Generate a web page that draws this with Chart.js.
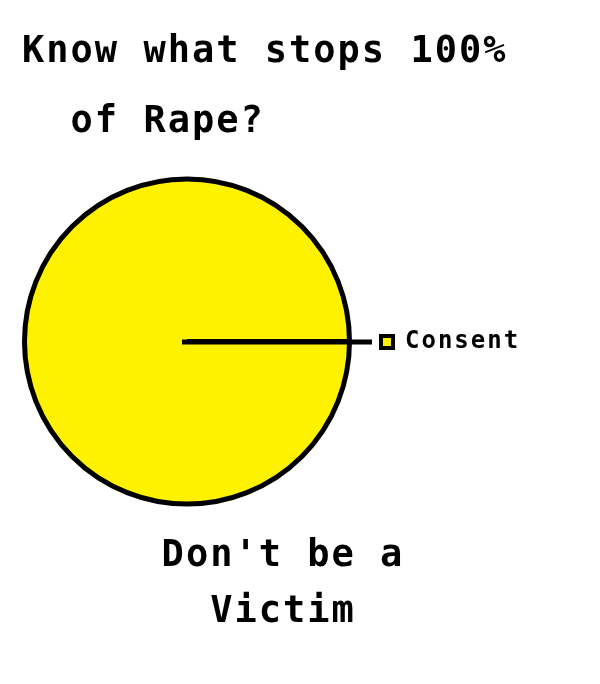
<!DOCTYPE html>
<html>
<head>
<meta charset="utf-8">
<script src="https://cdn.jsdelivr.net/npm/chart.js@4/dist/chart.umd.min.js"></script>
<style>
  html, body { margin: 0; padding: 0; background: #ffffff; }
  #wrap { width: 600px; height: 684px; position: relative; }
</style>
</head>
<body>
<div id="wrap"><canvas id="c"></canvas></div>
<script>
// ---- data ----
const categories = ['Consent'];
const seriesValues = [100];
const titleLines = ['Know what stops 100%', '  of Rape?'];
const footerLines = ["Don't be a", 'Victim'];

const YELLOW = '#FFF200';
const FONT = "'DejaVu Sans Mono', 'Liberation Mono', monospace";
const LEGEND_WIDTH = 192;

const spacingPlugin = {
  id: 'letterSpacing',
  afterInit(chart) {
    const lg = chart.legend;
    if (lg && !lg._wrapped) {
      const orig = lg.fit;
      lg.fit = function () {
        orig.apply(this, arguments);
        this.width = Math.max(this.width, LEGEND_WIDTH);
      };
      lg._wrapped = true;
    }
  },
  beforeUpdate(chart) { chart.ctx.letterSpacing = '2px'; },
  beforeLayout(chart) { chart.ctx.letterSpacing = '2px'; },
  beforeDraw(chart) { chart.ctx.letterSpacing = '2px'; }
};

const leaderPlugin = {
  id: 'leader',
  afterDraw(chart) {
    const arc = chart.getDatasetMeta(0).data[0];
    const hb = chart.legend && chart.legend.legendHitBoxes && chart.legend.legendHitBoxes[0];
    if (!arc || !hb) return;
    const ctx = chart.ctx;
    ctx.save();
    ctx.strokeStyle = '#000';
    ctx.lineWidth = 5;
    ctx.lineCap = 'butt';
    ctx.beginPath();
    ctx.moveTo(arc.x - 5, arc.y + 0.5);
    ctx.lineTo(hb.left - 9, arc.y + 0.5);
    ctx.stroke();
    ctx.restore();
  }
};

new Chart(document.getElementById('c'), {
  type: 'pie',
  data: {
    labels: categories,
    datasets: [{
      data: seriesValues,
      backgroundColor: [YELLOW],
      borderColor: '#000000',
      borderWidth: 5
    }]
  },
  plugins: [spacingPlugin, leaderPlugin],
  options: {
    responsive: true,
    maintainAspectRatio: false,
    animation: false,
    rotation: 90,
    layout: { padding: { left: 22, right: 56, top: 0, bottom: 0 } },
    plugins: {
      tooltip: { enabled: false },
      title: {
        display: true,
        text: titleLines,
        align: 'start',
        color: '#000',
        font: { family: FONT, size: 37, weight: 'bold', lineHeight: 70 / 37 },
        padding: { top: 17, bottom: 19 }
      },
      subtitle: {
        display: true,
        position: 'bottom',
        text: footerLines,
        align: 'center',
        color: '#000',
        font: { family: FONT, size: 37, weight: 'bold', lineHeight: 56 / 37 },
        padding: { top: 21, bottom: 44 }
      },
      legend: {
        position: 'right',
        align: 'center',
        labels: {
          color: '#000',
          boxWidth: 12,
          boxHeight: 12,
          padding: 29,
          font: { family: FONT, size: 24, weight: 'bold' },
          generateLabels(chart) {
            const items = Chart.controllers.pie.overrides.plugins.legend.labels.generateLabels(chart);
            items.forEach(it => { it.lineWidth = 4; it.strokeStyle = '#000'; });
            return items;
          }
        }
      }
    }
  }
});
</script>
</body>
</html>
